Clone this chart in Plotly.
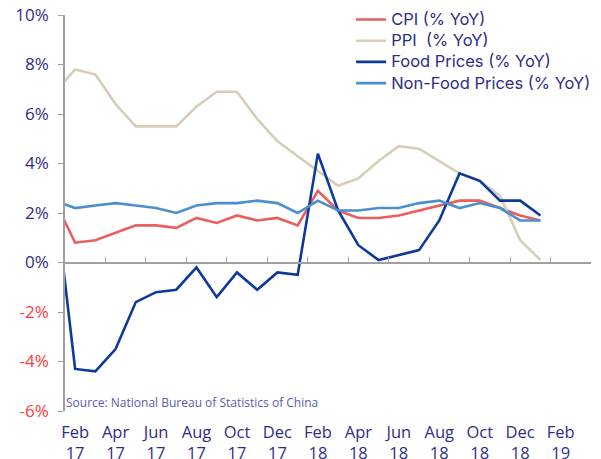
import plotly.graph_objects as go

months = ["Jan 17", "Feb 17", "Mar 17", "Apr 17", "May 17", "Jun 17", "Jul 17", "Aug 17",
          "Sep 17", "Oct 17", "Nov 17", "Dec 17", "Jan 18", "Feb 18", "Mar 18", "Apr 18",
          "May 18", "Jun 18", "Jul 18", "Aug 18", "Sep 18", "Oct 18", "Nov 18", "Dec 18", "Jan 19"]

cpi = [2.5, 0.8, 0.9, 1.2, 1.5, 1.5, 1.4, 1.8, 1.6, 1.9, 1.7, 1.8, 1.5, 2.9, 2.1, 1.8,
       1.8, 1.9, 2.1, 2.3, 2.5, 2.5, 2.2, 1.9, 1.7]
ppi = [6.9, 7.8, 7.6, 6.4, 5.5, 5.5, 5.5, 6.3, 6.9, 6.9, 5.8, 4.9, 4.3, 3.7, 3.1, 3.4,
       4.1, 4.7, 4.6, 4.1, 3.6, 3.3, 2.7, 0.9, 0.1]
food = [2.7, -4.3, -4.4, -3.5, -1.6, -1.2, -1.1, -0.2, -1.4, -0.4, -1.1, -0.4, -0.5, 4.4,
        2.1, 0.7, 0.1, 0.3, 0.5, 1.7, 3.6, 3.3, 2.5, 2.5, 1.9]
nonfood = [2.5, 2.2, 2.3, 2.4, 2.3, 2.2, 2.0, 2.3, 2.4, 2.4, 2.5, 2.4, 2.0, 2.5, 2.1, 2.1,
           2.2, 2.2, 2.4, 2.5, 2.2, 2.4, 2.2, 1.7, 1.7]

x_tick_labels = ["Feb<br>17", "Apr<br>17", "Jun<br>17", "Aug<br>17", "Oct<br>17", "Dec<br>17",
                 "Feb<br>18", "Apr<br>18", "Jun<br>18", "Aug<br>18", "Oct<br>18", "Dec<br>18",
                 "Feb<br>19"]
y_ticks = [-6, -4, -2, 0, 2, 4, 6, 8, 10]

NAVY = "#2E2D88"
RED_LBL = "#FF3B3B"
AXIS_GREY = "#A0A0A0"
FONT = "Open Sans"
LEGEND_FONT = "Inter"

x = list(range(len(months)))

series = [
    ("CPI (% YoY)", cpi, "#E8605E"),
    ("PPI  (% YoY)", ppi, "#D6CEB6"),
    ("Food Prices (% YoY)", food, "#0B3A9C"),
    ("Non-Food Prices (% YoY)", nonfood, "#4A8FD0"),
]

fig = go.Figure()
for name, vals, col in series:
    fig.add_trace(go.Scatter(x=x, y=vals, mode="lines",
                             name=f'<span style="font-size:16.5px">{name}</span>',
                             line=dict(color=col, width=2.6), customdata=months,
                             hovertemplate="%{customdata}: %{y}%<extra>" + name + "</extra>"))

# invisible carrier trace so that the zero-line axis (x2) is drawn
fig.add_trace(go.Scatter(x=x, y=cpi, xaxis="x2", mode="lines", line=dict(width=0),
                         opacity=0, showlegend=False, hoverinfo="skip"))

# positions of tick marks (month boundaries) and labels (every other month, from Feb 17)
label_pos = [i for i in range(1, len(months) + 2, 2)]
tick_marks = [p - 0.5 for p in label_pos] + [label_pos[-1] + 1.5]

y_text = []
for v in y_ticks:
    c = RED_LBL if v < 0 else NAVY
    y_text.append(f'<span style="color:{c}">{v}%</span>')

# the page body adds an 8px offset, so the figure is 8px smaller on each side
fig.update_layout(
    width=593, height=451,
    margin=dict(l=57, r=10, t=7, b=48, autoexpand=False),
    paper_bgcolor="white", plot_bgcolor="white",
    font=dict(family=FONT, color=NAVY, size=15),
    showlegend=True,
    legend=dict(x=0.544, y=1.028, xanchor="left", yanchor="top",
                font=dict(size=14, color=NAVY, family=LEGEND_FONT), bgcolor="rgba(0,0,0,0)",
                tracegroupgap=0, itemwidth=30),
    xaxis=dict(range=[0.5, 26.5], tickmode="array", tickvals=label_pos, ticktext=x_tick_labels,
               ticks="", showline=False, showgrid=False, zeroline=False, automargin=False,
               ticklabelstandoff=9, ticklabeloverflow="allow",
               tickfont=dict(size=16.5, color=NAVY)),
    xaxis2=dict(overlaying="x", matches="x", anchor="free", position=0.375,
                showline=True, linecolor=AXIS_GREY, linewidth=1.5,
                ticks="inside", ticklen=5, tickcolor=AXIS_GREY, tickwidth=1.2,
                tickmode="array", tickvals=tick_marks, showticklabels=False,
                showgrid=False, zeroline=False),
    yaxis=dict(range=[-6, 10], tickmode="array", tickvals=y_ticks, ticktext=y_text,
               showline=True, linecolor=AXIS_GREY, linewidth=1.5,
               ticks="outside", ticklen=5, tickcolor=AXIS_GREY, tickwidth=1.2,
               ticklabelstandoff=6, automargin=False, ticklabeloverflow="allow",
               showgrid=False, zeroline=False, tickfont=dict(size=17, color=NAVY)),
    annotations=[dict(text="Source: National Bureau of Statistics of China",
                      xref="paper", yref="y", x=-0.001, y=-5.66, xanchor="left", yanchor="middle",
                      showarrow=False, font=dict(size=12, color="#5B5BAF", family=FONT))],
)

fig.write_html("out.html")
